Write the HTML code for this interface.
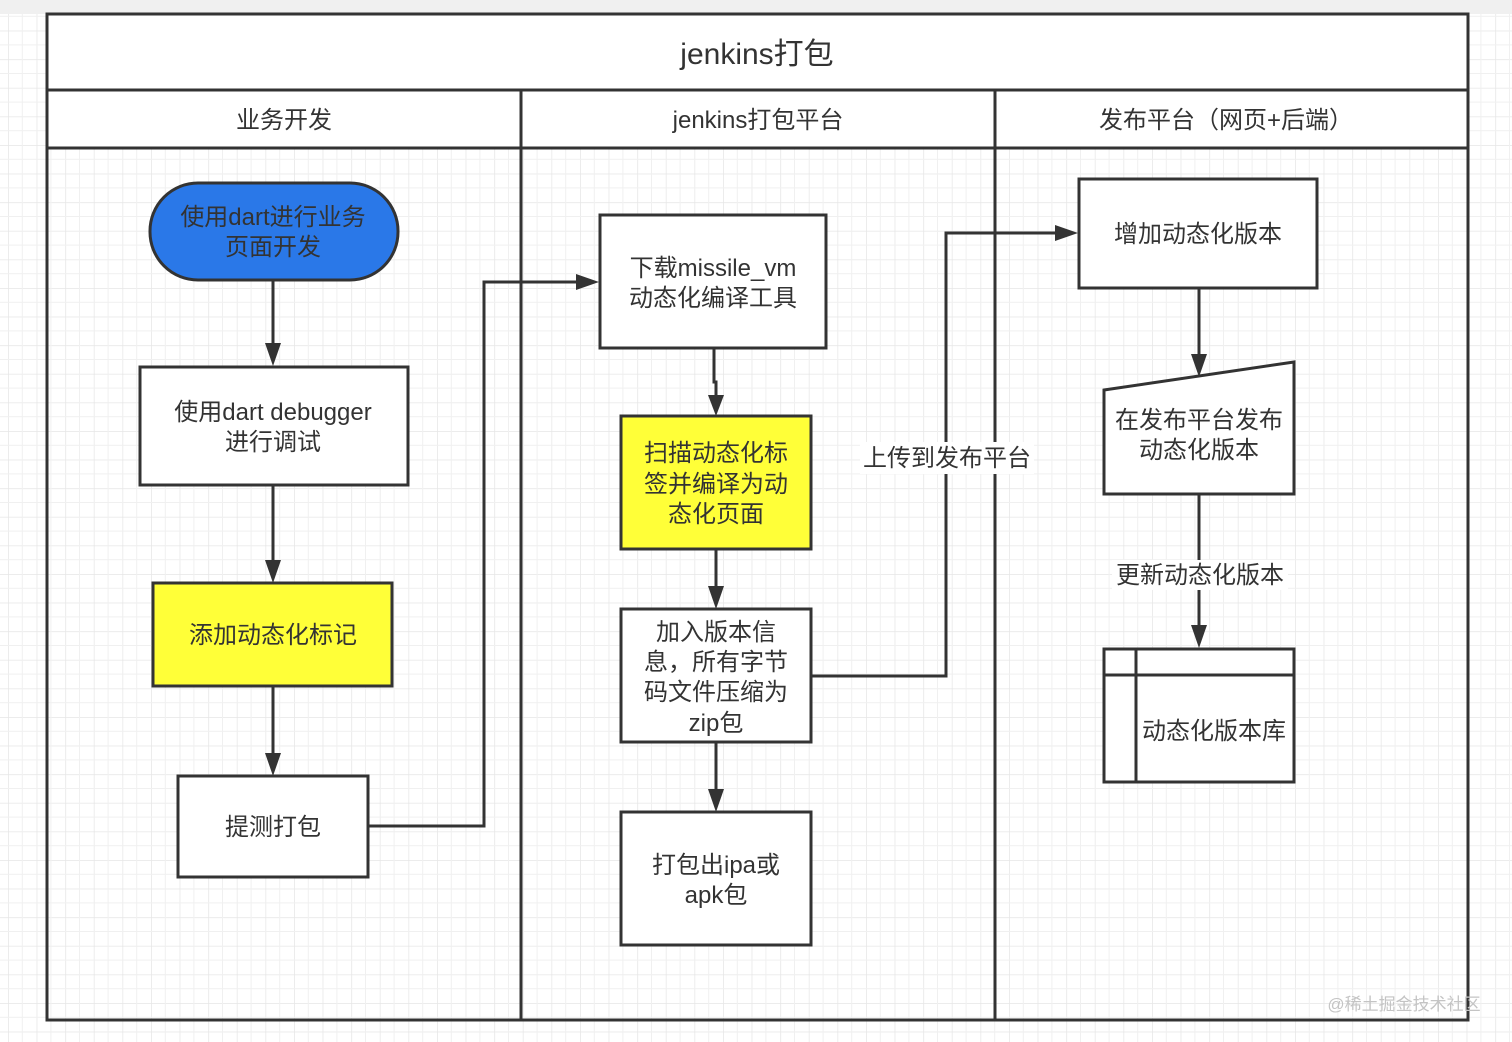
<!DOCTYPE html>
<html><head><meta charset="utf-8"><style>
html,body{margin:0;padding:0;background:#fff;}
svg{display:block;}
text{font-family:"Liberation Sans","Noto Sans CJK SC",sans-serif;fill:#333;font-size:23px;text-anchor:middle;}
</style></head><body>
<svg width="1512" height="1042" viewBox="0 0 1512 1042" xmlns="http://www.w3.org/2000/svg">
<defs>
<pattern id="g" width="28.6" height="28.6" patternUnits="userSpaceOnUse" x="8" y="2">
<path d="M0 0H28.6M0 0V28.6" stroke="#e6e6e6" stroke-width="1.5" fill="none"/>
<path d="M0 14.3H28.6M14.3 0V28.6" stroke="#f0f0f0" stroke-width="1" fill="none"/>
</pattern>
</defs>
<rect width="1512" height="1042" fill="#fff"/>
<rect width="1512" height="1042" fill="url(#g)"/>
<rect width="1512" height="14" fill="#f0f0f0"/>
<rect x="47" y="14" width="1421" height="1006" fill="none" stroke="#333" stroke-width="3"/>
<rect x="48.5" y="15.5" width="1418" height="74" fill="#fff"/>
<rect x="48.5" y="91.5" width="1418" height="56" fill="#fff"/>
<g stroke="#333" stroke-width="3" fill="none">
<line x1="47" y1="90" x2="1468" y2="90"/>
<line x1="47" y1="148" x2="1468" y2="148"/>
<line x1="521" y1="90" x2="521" y2="1020"/>
<line x1="995" y1="90" x2="995" y2="1020"/>
</g>
<text x="757" y="64" style="font-size:30px">jenkins打包</text>
<text x="284" y="128" style="font-size:24px">业务开发</text>
<text x="758" y="128" style="font-size:24px">jenkins打包平台</text>
<text x="1226" y="128" style="font-size:24px">发布平台（网页+后端）</text>

<g stroke="#333" stroke-width="3" fill="none">
<line x1="273" y1="280" x2="273" y2="345"/>
<line x1="273" y1="485" x2="273" y2="562"/>
<line x1="273" y1="686" x2="273" y2="755"/>
<polyline points="368,826 484,826 484,282 578,282"/>
<polyline points="714,348 714,382 716,382 716,397"/>
<line x1="716" y1="549" x2="716" y2="588"/>
<line x1="716" y1="742" x2="716" y2="791"/>
<polyline points="811,676 946,676 946,233 1057,233"/>
<line x1="1199" y1="288" x2="1199" y2="357"/>
<line x1="1199" y1="494" x2="1199" y2="628"/>
</g>
<g fill="#333">
<polygon points="265,343 281,343 273,366"/>
<polygon points="265,560 281,560 273,583"/>
<polygon points="265,753 281,753 273,776"/>
<polygon points="576,274 576,290 599,282"/>
<polygon points="708,395 724,395 716,416"/>
<polygon points="708,586 724,586 716,609"/>
<polygon points="708,789 724,789 716,812"/>
<polygon points="1055,225 1055,241 1078,233"/>
<polygon points="1191,354 1207,354 1199,377"/>
<polygon points="1191,625 1207,625 1199,648"/>
</g>
<rect x="860" y="442" width="174" height="32" fill="#fff"/>
<text x="947" y="466" style="font-size:24px">上传到发布平台</text>
<rect x="1112" y="560" width="176" height="30" fill="#fff"/>
<text x="1200" y="583" style="font-size:24px">更新动态化版本</text>

<g stroke="#333" stroke-width="3">
<rect x="150" y="183" width="248" height="97" rx="48" fill="#2a78e8"/>
<rect x="140" y="367" width="268" height="118" fill="#fff"/>
<rect x="153" y="583" width="239" height="103" fill="#ffff38"/>
<rect x="178" y="776" width="190" height="101" fill="#fff"/>
<rect x="600" y="215" width="226" height="133" fill="#fff"/>
<rect x="621" y="416" width="190" height="133" fill="#ffff38"/>
<rect x="621" y="609" width="190" height="133" fill="#fff"/>
<rect x="621" y="812" width="190" height="133" fill="#fff"/>
<rect x="1079" y="179" width="238" height="109" fill="#fff"/>
<polygon points="1104,390 1294,362 1294,494 1104,494" fill="#fff"/>
<rect x="1104" y="649" width="190" height="133" fill="#fff"/>
<line x1="1136" y1="649" x2="1136" y2="782" fill="none"/>
<line x1="1104" y1="675" x2="1294" y2="675" fill="none"/>
</g>
<g style="font-size:24px">
<text x="273" y="225" style="font-size:24px">使用dart进行业务</text>
<text x="273" y="255" style="font-size:24px">页面开发</text>
<text x="273" y="420" style="font-size:24px">使用dart debugger</text>
<text x="273" y="450" style="font-size:24px">进行调试</text>
<text x="273" y="643" style="font-size:24px">添加动态化标记</text>
<text x="273" y="835" style="font-size:24px">提测打包</text>
<text x="713" y="276" style="font-size:24px">下载missile_vm</text>
<text x="713" y="306" style="font-size:24px">动态化编译工具</text>
<text x="716" y="461" style="font-size:24px">扫描动态化标</text>
<text x="716" y="492" style="font-size:24px">签并编译为动</text>
<text x="716" y="522" style="font-size:24px">态化页面</text>
<text x="716" y="640" style="font-size:24px">加入版本信</text>
<text x="716" y="670" style="font-size:24px">息，所有字节</text>
<text x="716" y="700" style="font-size:24px">码文件压缩为</text>
<text x="716" y="731" style="font-size:24px">zip包</text>
<text x="716" y="873" style="font-size:24px">打包出ipa或</text>
<text x="716" y="903" style="font-size:24px">apk包</text>
<text x="1198" y="242" style="font-size:24px">增加动态化版本</text>
<text x="1199" y="428" style="font-size:24px">在发布平台发布</text>
<text x="1199" y="458" style="font-size:24px">动态化版本</text>
<text x="1214" y="739" style="font-size:24px">动态化版本库</text>
</g>
<text x="1404" y="1010" style="font-size:17px;fill:#c4c4c4">@稀土掘金技术社区</text>
</svg>
</body></html>
